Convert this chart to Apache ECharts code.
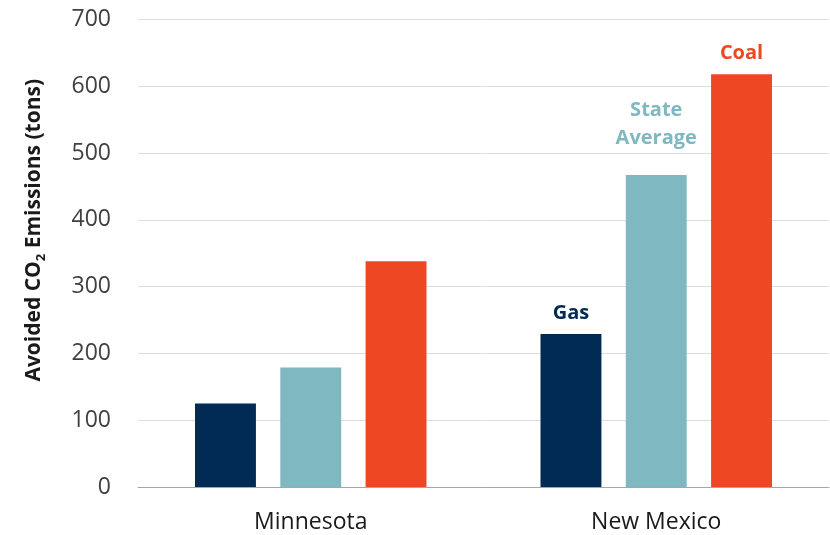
<!DOCTYPE html>
<html>
<head>
<meta charset="utf-8">
<script src="https://cdn.jsdelivr.net/npm/echarts@6/dist/echarts.min.js"></script>
<style>
html,body{margin:0;padding:0;background:#fff;}
#chart{width:830px;height:535px;}
</style>
</head>
<body>
<div id="chart"></div>
<script>
const categories = ['Minnesota', 'New Mexico'];
const gasValues = [125, 229];
const stateAvgValues = [179, 467];
const coalValues = [338, 618];
const yTicks = { min: 0, max: 700, interval: 100 };
const labelledIndex = 1; // labels shown on New Mexico bars

const FONT = '"Open Sans", "Noto Sans", sans-serif';

function withLabel(values, labelCfg) {
  return values.map((v, i) => i === labelledIndex ? { value: v, label: labelCfg } : v);
}

const chart = echarts.init(document.getElementById('chart'), null, { renderer: 'canvas' });
chart.setOption({
  animation: false,
  backgroundColor: '#ffffff',
  textStyle: { fontFamily: FONT },
  grid: { left: 138, right: 1, top: 19.5, bottom: 48, containLabel: false },
  xAxis: {
    type: 'category',
    data: categories,
    axisLine: { lineStyle: { color: '#a6a6a6', width: 1 } },
    axisTick: { show: false },
    axisLabel: { fontSize: 23, color: '#1a1a1a', margin: 24, lineHeight: 23, fontFamily: FONT }
  },
  yAxis: {
    type: 'value',
    min: yTicks.min, max: yTicks.max, interval: yTicks.interval,
    axisLine: { show: false },
    axisTick: { show: false },
    splitLine: { lineStyle: { color: '#dedede', width: 1 } },
    axisLabel: { fontSize: 23, color: '#404040', margin: 27, fontFamily: FONT },
    name: 'Avoided CO{sub|2} Emissions (tons)',
    nameLocation: 'middle',
    nameGap: 90,
    nameTextStyle: {
      fontSize: 21, fontWeight: 'bold', color: '#1a1a1a', fontFamily: FONT,
      lineHeight: 28, padding: [0, 0, 0, 46],
      rich: {
        sub: { fontSize: 13, fontWeight: 'bold', color: '#1a1a1a', fontFamily: FONT, lineHeight: 13, verticalAlign: 'bottom' }
      }
    }
  },
  series: [
    {
      name: 'Gas', type: 'bar', barCategoryGap: '33%', barGap: '40%',
      itemStyle: { color: '#012b55' },
      data: withLabel(gasValues, {
        show: true, position: 'top', distance: 10, formatter: 'Gas',
        fontSize: 20, fontWeight: 'bold', color: '#012b55', lineHeight: 22, fontFamily: FONT
      })
    },
    {
      name: 'State Average', type: 'bar', barCategoryGap: '33%', barGap: '40%',
      itemStyle: { color: '#7fb8c1' },
      data: withLabel(stateAvgValues, {
        show: true, position: 'top', distance: 23, formatter: 'State\nAverage',
        fontSize: 20, fontWeight: 'bold', color: '#7fb8c1', lineHeight: 28, fontFamily: FONT
      })
    },
    {
      name: 'Coal', type: 'bar', barCategoryGap: '33%', barGap: '40%',
      itemStyle: { color: '#ee4723' },
      data: withLabel(coalValues, {
        show: true, position: 'top', distance: 10, formatter: 'Coal',
        fontSize: 20, fontWeight: 'bold', color: '#ee4723', lineHeight: 22, fontFamily: FONT
      })
    }
  ]
});
</script>
</body>
</html>
